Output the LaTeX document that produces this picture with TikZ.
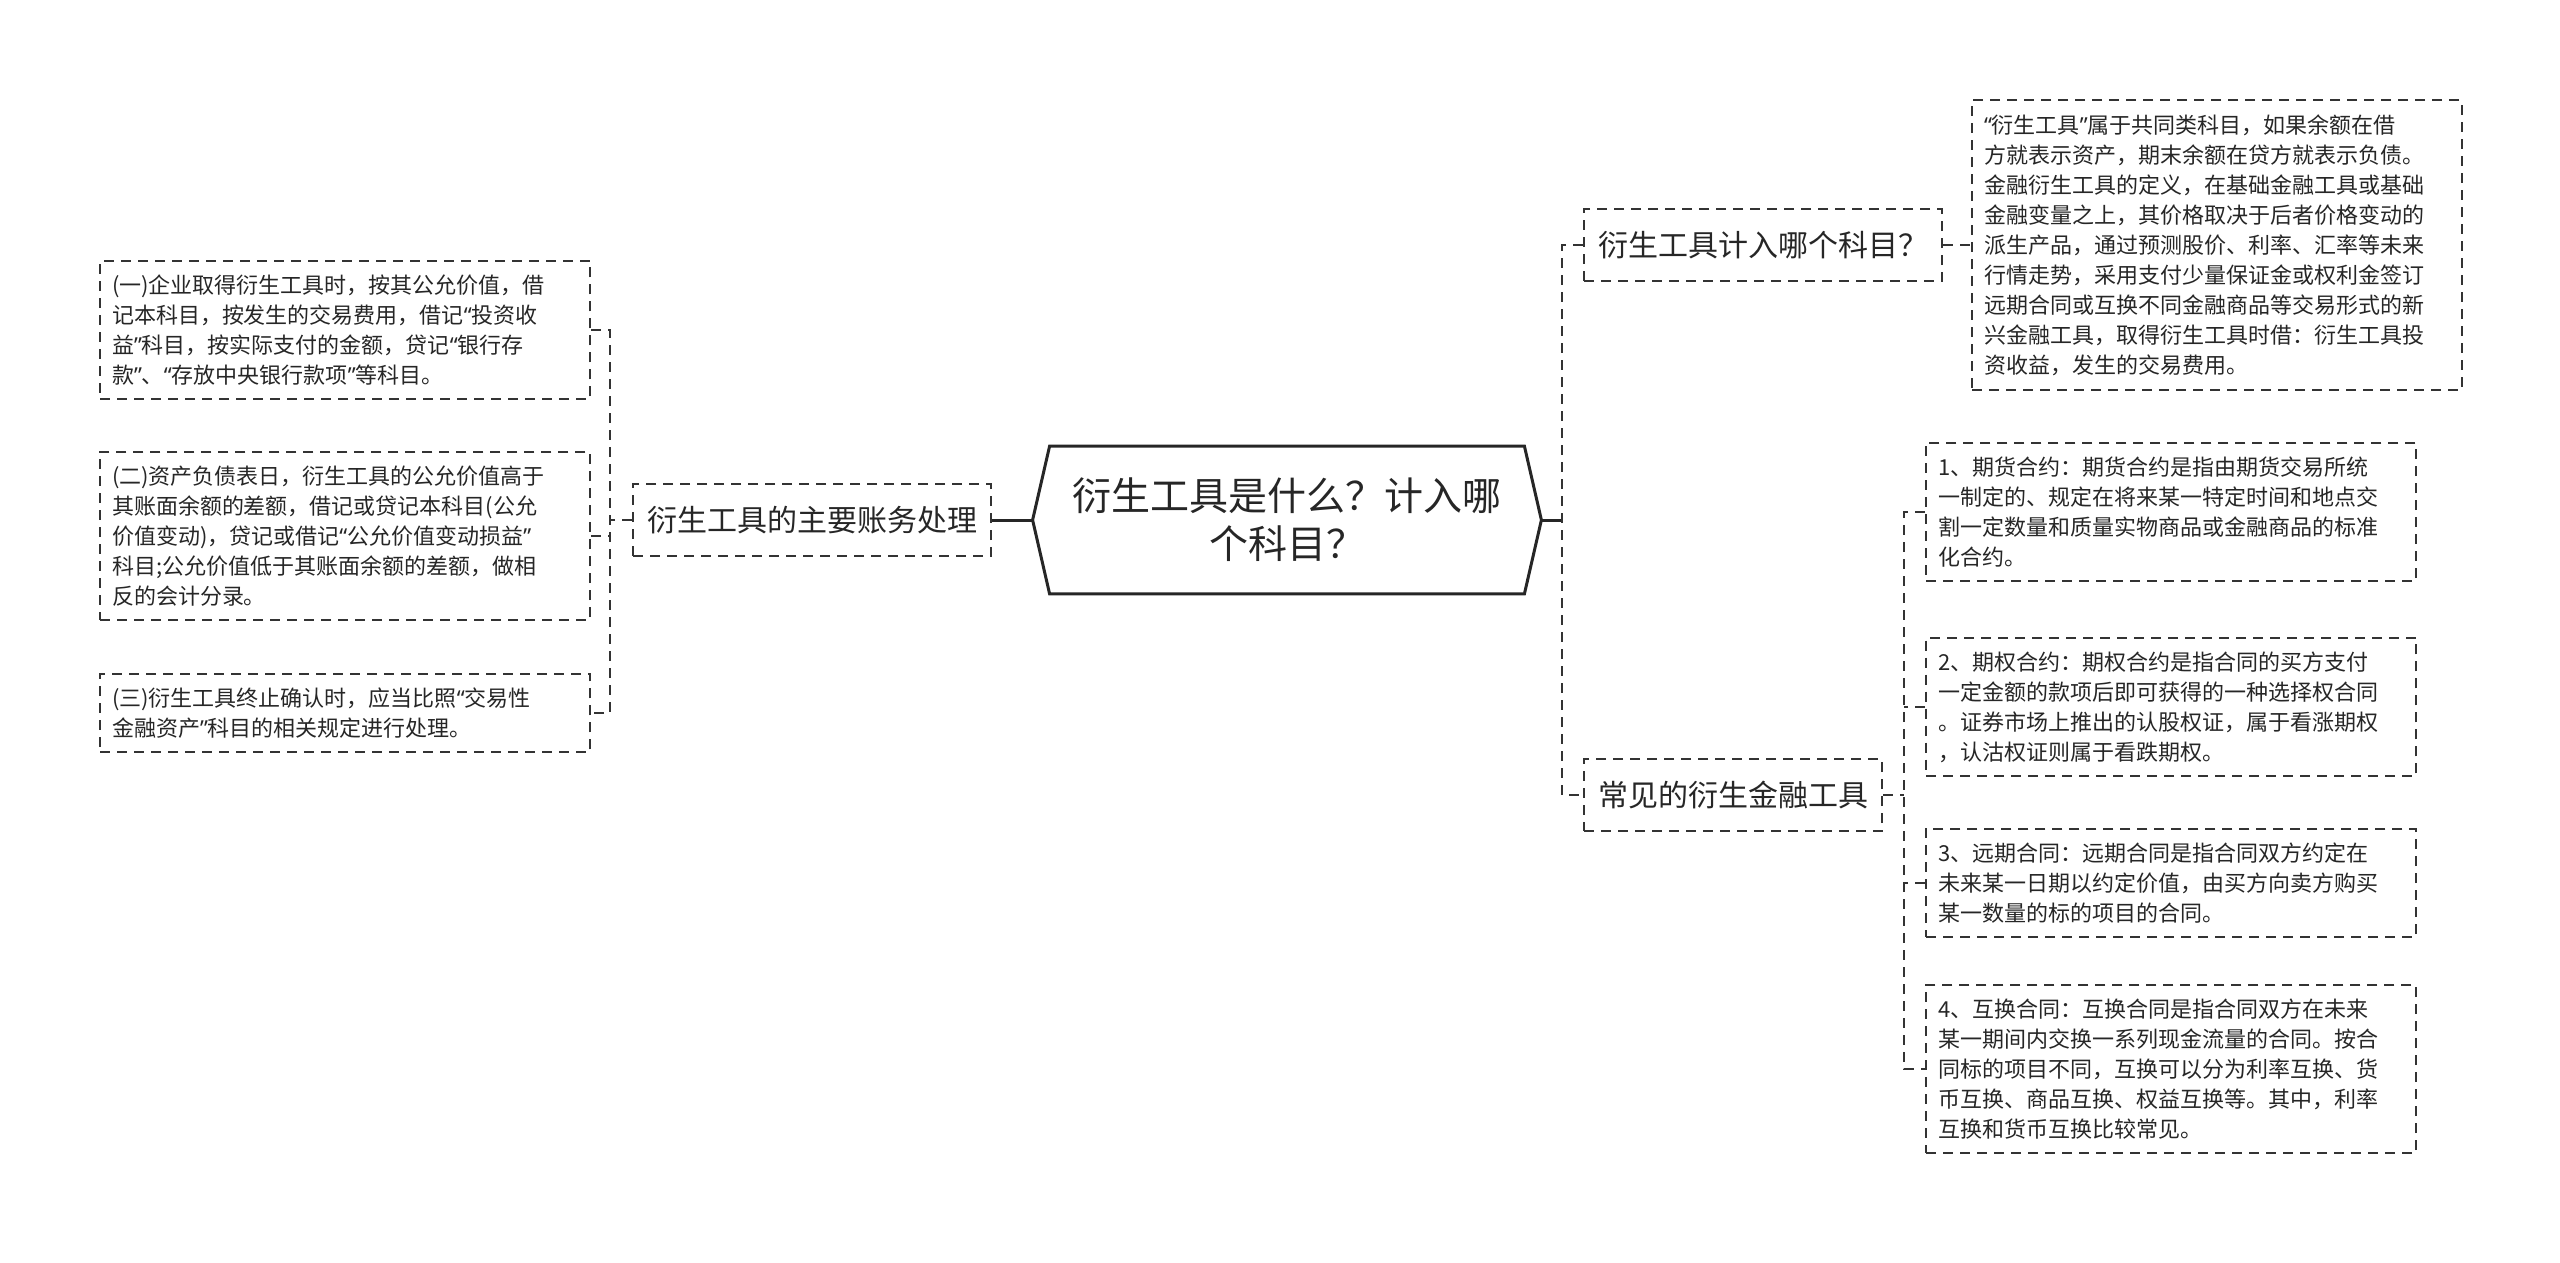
\documentclass[tikz,border=0pt]{standalone}
\usepackage{fontspec}
\setmainfont{Noto Sans CJK SC}
\newfontfamily\quotefont{Noto Sans}
\newcommand\oq{{\quotefont “}}
\newcommand\cq{{\quotefont ”}}

\begin{document}
\begin{tikzpicture}[x=0.5pt,y=-0.5pt,
  every node/.style={text=black!85},
  leaf/.style={draw=black!80,line width=1pt,dash pattern=on 5pt off 3.5pt,
    font=\fontsize{11}{15}\selectfont,align=left,text width=233pt,
    inner xsep=6pt,inner ysep=7pt,anchor=west},
  branch/.style={draw=black!80,line width=1pt,dash pattern=on 5pt off 3.5pt,
    font=\fontsize{15}{18}\selectfont,inner xsep=7pt,minimum height=36pt,anchor=west},
  link/.style={draw=black!80,line width=1pt,dash pattern=on 5pt off 3.5pt},
  stem/.style={draw=black!85,line width=1.5pt}]
  \useasboundingbox (0,0) rectangle (2560,1263);

  % root
  \node[font=\fontsize{19.5}{24}\selectfont,align=center,minimum width=254pt,
    minimum height=73.5pt] (root) at (1287,520) {衍生工具是什么？计入哪\\个科目？};
  \draw[stem] (root.west) -- ([xshift=8.5pt]root.north west)
    -- ([xshift=-8.5pt]root.north east) -- (root.east)
    -- ([xshift=-8.5pt]root.south east) -- ([xshift=8.5pt]root.south west) -- cycle;

  % left side
  \node[branch] (lb) at (632,520) {衍生工具的主要账务处理};
  \node[leaf] (l1) at (99,330) {(一)企业取得衍生工具时，按其公允价值，借\\记本科目，按发生的交易费用，借记\oq 投资收\\益\cq 科目，按实际支付的金额，贷记\oq 银行存\\款\cq 、\oq 存放中央银行款项\cq 等科目。};
  \node[leaf] (l2) at (99,536) {(二)资产负债表日，衍生工具的公允价值高于\\其账面余额的差额，借记或贷记本科目(公允\\价值变动)，贷记或借记\oq 公允价值变动损益\cq\\科目;公允价值低于其账面余额的差额，做相\\反的会计分录。};
  \node[leaf] (l3) at (99,713) {(三)衍生工具终止确认时，应当比照\oq 交易性\\金融资产\cq 科目的相关规定进行处理。};
  \coordinate (lj) at (610,520);
  \draw[stem] (lb.east) -- (root.west);
  \draw[link] (lb.west) -- (lj);
  \draw[link] (l1.east) -| (lj) |- (l3.east);
  \draw[link] (l2.east) -- (l2.east -| lj);

  % right side
  \node[branch] (rb1) at (1583,245) {衍生工具计入哪个科目？};
  \node[branch] (rb2) at (1583,795) {常见的衍生金融工具};
  \coordinate (rj) at (1562,520);
  \draw[stem] (root.east) -- (rj);
  \draw[link] (rb1.west) -| (rj) |- (rb2.west);

  \node[leaf] (r0) at (1971,245) {\oq 衍生工具\cq 属于共同类科目，如果余额在借\\方就表示资产，期末余额在贷方就表示负债。\\金融衍生工具的定义，在基础金融工具或基础\\金融变量之上，其价格取决于后者价格变动的\\派生产品，通过预测股价、利率、汇率等未来\\行情走势，采用支付少量保证金或权利金签订\\远期合同或互换不同金融商品等交易形式的新\\兴金融工具，取得衍生工具时借：衍生工具投\\资收益，发生的交易费用。};
  \draw[link] (rb1.east) -- (r0.west);

  \node[leaf] (r1) at (1925,512) {1、期货合约：期货合约是指由期货交易所统\\一制定的、规定在将来某一特定时间和地点交\\割一定数量和质量实物商品或金融商品的标准\\化合约。};
  \node[leaf] (r2) at (1925,707) {2、期权合约：期权合约是指合同的买方支付\\一定金额的款项后即可获得的一种选择权合同\\。证券市场上推出的认股权证，属于看涨期权\\，认沽权证则属于看跌期权。};
  \node[leaf] (r3) at (1925,883) {3、远期合同：远期合同是指合同双方约定在\\未来某一日期以约定价值，由买方向卖方购买\\某一数量的标的项目的合同。};
  \node[leaf] (r4) at (1925,1069) {4、互换合同：互换合同是指合同双方在未来\\某一期间内交换一系列现金流量的合同。按合\\同标的项目不同，互换可以分为利率互换、货\\币互换、商品互换、权益互换等。其中，利率\\互换和货币互换比较常见。};
  \coordinate (sj) at (1904,795);
  \draw[link] (rb2.east) -- (sj);
  \draw[link] (r1.west) -| (sj) |- (r4.west);
  \draw[link] (r2.west) -- (r2.west -| sj);
  \draw[link] (r3.west) -- (r3.west -| sj);
\end{tikzpicture}
\end{document}
